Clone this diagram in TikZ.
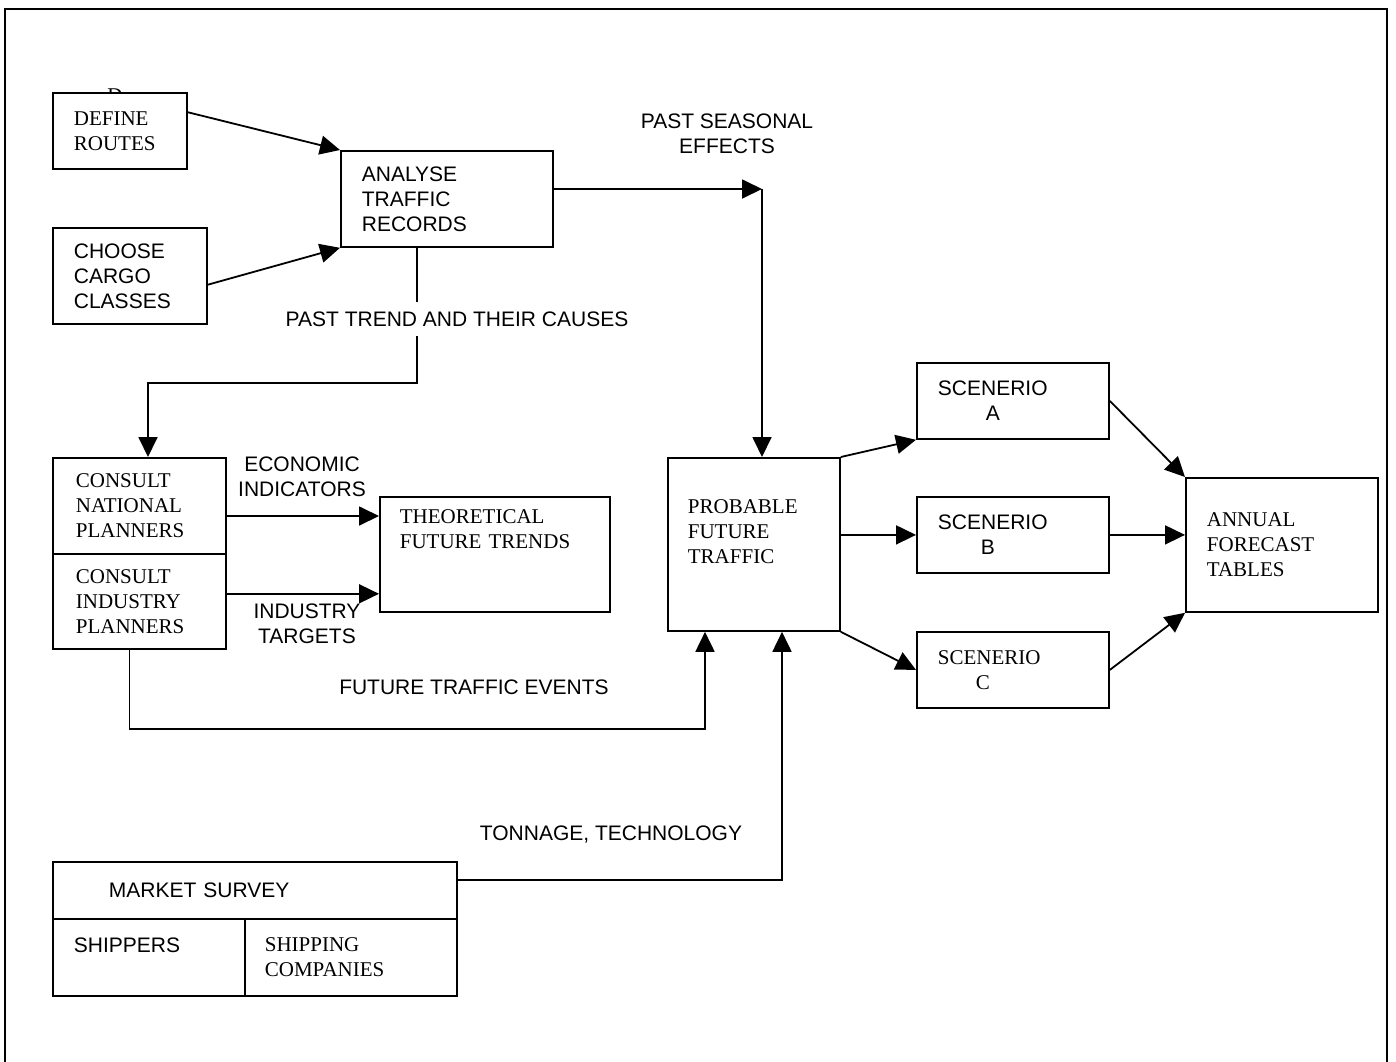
\documentclass[tikz,border=0pt]{standalone}
\usepackage{fontspec}
\setmainfont{Liberation Serif}
\newfontfamily\arialfam{Liberation Sans}
\usetikzlibrary{arrows.meta,positioning,calc}

\begin{document}
\begin{tikzpicture}[x=1pt,y=-1pt,line width=1.8pt,
  blk/.style={draw,fill=white,anchor=north west,inner xsep=21pt,inner ysep=0pt,
              align=left,font=\rmfamily\fontsize{21}{25}\selectfont},
  sfblk/.style={blk,font=\arialfam\fontsize{21}{25}\selectfont},
  lbl/.style={align=center,inner sep=2pt,font=\arialfam\fontsize{21}{25}\selectfont},
  arr/.style={-{Triangle[length=20pt,width=19pt]}}]

\useasboundingbox (0,0) rectangle (1396,1061);
\draw (5,1075) |- (1387,9) -- (1387,1075);

% ------------- records -------------
\node[font=\rmfamily\fontsize{21}{25}\selectfont] (stray) at (115,96) {D};
\node[blk,text width=92pt,minimum height=76pt] (defr) at (52,92) {DEFINE\\ROUTES};
\node[sfblk,text width=112pt,minimum height=96pt] (cargo) at (52,227) {CHOOSE\\CARGO\\CLASSES};
\node[sfblk,text width=170pt,minimum height=96pt] (ana) at (340,150) {ANALYSE\\TRAFFIC\\RECORDS};

% ------------- planners -------------
\node[blk,inner xsep=23pt,text width=127pt,minimum height=96pt] (cnat) at (52,457)
  {CONSULT\\NATIONAL\\PLANNERS};
\node[blk,inner xsep=23pt,text width=127pt,minimum height=95pt] (cind) at (52,553)
  {CONSULT\\INDUSTRY\\PLANNERS};
\node[blk,inner xsep=20pt,text width=190pt,minimum height=115pt] (theo) at (379,496)
  {THEORETICAL\\FUTURE TRENDS\\\mbox{}\\\mbox{}};

% ------------- forecast -------------
\node[blk,inner xsep=20pt,text width=132pt,minimum height=173pt] (prob) at (667,457)
  {PROBABLE\\FUTURE\\TRAFFIC\\\mbox{}};
\node[sfblk,text width=150pt,minimum height=76pt] (scena) at (916,362) {SCENERIO\\\hspace*{48pt}A};
\node[sfblk,text width=150pt,minimum height=76pt] (scenb) at (916,496) {SCENERIO\\\hspace*{43pt}B};
\node[blk,text width=150pt,minimum height=76pt] (scenc) at (916,631) {SCENERIO\\\hspace*{38pt}C};
\node[blk,text width=150pt,minimum height=134pt] (annual) at (1185,477) {ANNUAL\\FORECAST\\TABLES};

% ------------- survey -------------
\node[sfblk,inner xsep=56pt,text width=292pt,minimum height=57pt] (msurvey) at (52,861) {MARKET SURVEY};
\node[sfblk,text width=150pt,minimum height=77pt] (shippers) at (52,918) {SHIPPERS\\\mbox{}};
\node[blk,inner xsep=20pt,text width=172pt,minimum height=77pt] (shipco) at (244,918)
  {SHIPPING\\COMPANIES};

% ------------- connectors -------------
\coordinate (defout) at ($(defr.north east)!0.26!(defr.south east)$);
\coordinate (cargoout) at ($(cargo.north east)!0.59!(cargo.south east)$);
\draw[arr] (defout) -- (ana.north west);
\draw[arr] (cargoout) -- (ana.south west);

\coordinate (seas) at (762,189);
\draw[arr] (ana.east |- seas) -- (seas);
\draw[arr] (seas) -- (seas |- prob.north);

\coordinate (trendout) at ($(ana.south west)+(77,0)$);
\coordinate (trendturn) at (148,383);
\draw[arr] (trendout) |- (trendturn) -- (trendturn |- cnat.north);

\coordinate (econin) at ($(theo.north west)+(0,20)$);
\coordinate (indin) at ($(theo.south west)+(0,-19)$);
\draw[arr] (cnat.east |- econin) -- (econin);
\draw[arr] (cind.east |- indin) -- (indin);

\coordinate (fteout) at ($(cind.south)+(-10,0)$);
\coordinate (ftein) at ($(prob.south west)+(38,0)$);
\draw[arr] (fteout) -- ++(0,79) -| (ftein);

\coordinate (msout) at ($(msurvey.north east)!0.32!(msurvey.south east)$);
\coordinate (tonin) at ($(prob.south west)+(115,0)$);
\draw[arr] (msout) -| (tonin);

\draw[arr] (prob.north east) -- (scena.south west);
\draw[arr] (prob.east |- scenb.west) -- (scenb.west);
\draw[arr] (prob.south east) -- (scenc.west);
\draw[arr] (scena.east) -- (annual.north west);
\draw[arr] (scenb.east) -- (annual.west |- scenb.east);
\draw[arr] (scenc.east) -- (annual.south west);

% ------------- labels -------------
\node[lbl] (seaslbl) at (727,134) {PAST SEASONAL\\EFFECTS};
\node[lbl,fill=white,inner ysep=10pt] (trendlbl) at (457,319) {PAST TREND AND THEIR CAUSES};
\node[lbl] (econlbl) at (302,477) {ECONOMIC\\INDICATORS};
\node[lbl] (indlbl) at (307,624) {INDUSTRY\\TARGETS};
\node[lbl] (ftelbl) at (474,687) {FUTURE TRAFFIC EVENTS};
\node[lbl] (tonlbl) at (611,834) {TONNAGE, TECHNOLOGY};

\end{tikzpicture}
\end{document}
